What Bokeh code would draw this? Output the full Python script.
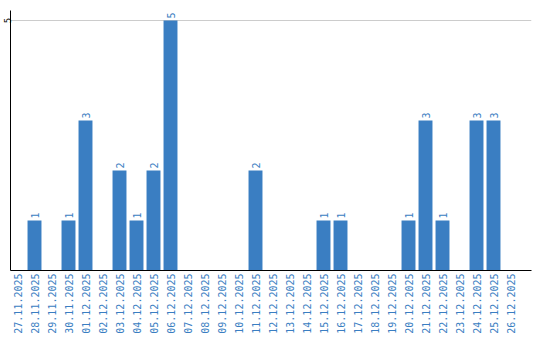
import numpy as np
from math import pi
from bokeh.plotting import figure
from bokeh.models import ColumnDataSource, FixedTicker, Range1d
from bokeh.core.properties import value
from bokeh.embed import file_html
from bokeh.resources import INLINE

dates = ["27.11.2025", "28.11.2025", "29.11.2025", "30.11.2025", "01.12.2025",
         "02.12.2025", "03.12.2025", "04.12.2025", "05.12.2025", "06.12.2025",
         "07.12.2025", "08.12.2025", "09.12.2025", "10.12.2025", "11.12.2025",
         "12.12.2025", "13.12.2025", "14.12.2025", "15.12.2025", "16.12.2025",
         "17.12.2025", "18.12.2025", "19.12.2025", "20.12.2025", "21.12.2025",
         "22.12.2025", "23.12.2025", "24.12.2025", "25.12.2025", "26.12.2025"]
counts = [0, 1, 0, 1, 3, 0, 2, 1, 2, 5, 0, 0, 0, 0, 2,
          0, 0, 0, 1, 1, 0, 0, 0, 1, 3, 1, 0, 3, 3, 0]
y_ticks = [5]

BLUE = "#3a7ec2"
FONT = "DejaVu Sans Mono"

idx = list(range(len(dates)))
nz = [i for i in idx if counts[i] > 0]
src = ColumnDataSource(dict(x=[i for i in nz], y=[counts[i] for i in nz],
                            t=[str(counts[i]) for i in nz]))

p = figure(width=540, height=340, output_backend="svg", toolbar_location=None,
           x_range=Range1d(-0.4118, 30.235), y_range=Range1d(0, 5.2),
           min_border_left=10, min_border_right=9, min_border_top=10,
           min_border_bottom=70)
p.outline_line_color = None
p.background_fill_color = "white"
p.border_fill_color = "white"

p.vbar(x="x", top="y", width=0.82, bottom=0, source=src,
       fill_color=BLUE, line_color=None)

p.text(x="x", y="y", text="t", source=src, angle=pi/2, text_align="left",
       text_baseline="middle", y_offset=-2, text_color=BLUE,
       text_font=value(FONT), text_font_size="10px")

# x axis
xa = p.xaxis[0]
xa.ticker = FixedTicker(ticks=idx)
xa.major_label_overrides = {i: d for i, d in enumerate(dates)}
xa.major_label_orientation = pi/2
xa.major_label_text_color = BLUE
xa.major_label_text_font = FONT
xa.major_label_text_font_size = "10px"
xa.major_tick_line_color = None
xa.minor_tick_line_color = None
xa.major_tick_out = 0
xa.major_tick_in = 0
xa.major_label_standoff = 3
xa.axis_line_color = "black"

# y axis
ya = p.yaxis[0]
ya.ticker = FixedTicker(ticks=y_ticks)
ya.major_label_orientation = "parallel"
ya.major_label_text_color = "black"
ya.major_label_text_font = FONT
ya.major_label_text_font_size = "9px"
ya.major_label_text_line_height = 1.0
ya.major_tick_line_color = None
ya.minor_tick_line_color = None
ya.major_tick_out = 0
ya.major_tick_in = 0
ya.major_label_standoff = 0
ya.axis_line_color = "black"

p.xgrid.visible = False
p.ygrid.ticker = FixedTicker(ticks=y_ticks)
p.ygrid.grid_line_color = "#cccccc"

open("out.html", "w").write(file_html(p, INLINE))
